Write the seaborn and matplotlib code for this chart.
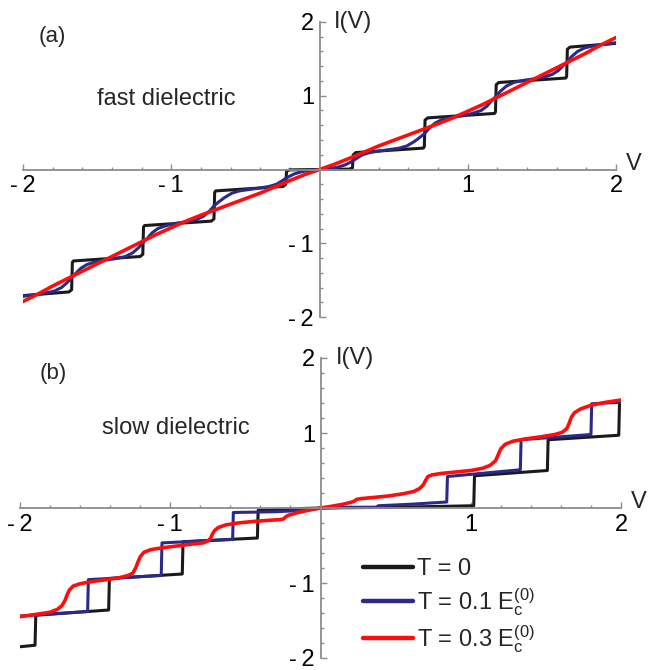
import matplotlib
matplotlib.use("Agg")
import matplotlib.pyplot as plt
from matplotlib.lines import Line2D
import seaborn as sns

# ---- panel (a): fast dielectric, I(V) ----
fast_t0_v = [-2.00, -1.69, -1.672, -1.667, -1.66, -1.21, -1.192, -1.187, -1.18, -0.73,
             -0.712, -0.707, -0.70, -0.245, -0.228, -0.222, -0.20, 0.00, 0.20, 0.222,
             0.228, 0.245, 0.70, 0.707, 0.712, 0.73, 1.18, 1.187, 1.192, 1.21,
             1.66, 1.667, 1.672, 1.69, 2.00]
fast_t0_i = [-1.71, -1.66, -1.63, -1.26, -1.24, -1.18, -1.15, -0.78, -0.76, -0.70,
             -0.67, -0.31, -0.29, -0.23, -0.20, -0.02, -0.005, 0.00, 0.005, 0.02,
             0.20, 0.23, 0.29, 0.31, 0.67, 0.70, 0.76, 0.78, 1.15, 1.18,
             1.24, 1.26, 1.63, 1.66, 1.71]

fast_t01_v = [-2.00, -1.93, -1.86, -1.79, -1.74, -1.70, -1.67, -1.64, -1.61, -1.57,
              -1.51, -1.45, -1.38, -1.31, -1.26, -1.22, -1.19, -1.16, -1.13, -1.09,
              -1.03, -0.97, -0.90, -0.83, -0.78, -0.74, -0.71, -0.68, -0.64, -0.59,
              -0.54, -0.47, -0.40, -0.34, -0.29, -0.25, -0.21, -0.17, -0.12, -0.06,
              0.00,
              0.06, 0.12, 0.17, 0.21, 0.25, 0.29, 0.34, 0.40, 0.47, 0.54,
              0.59, 0.64, 0.68, 0.71, 0.74, 0.78, 0.83, 0.90, 0.97, 1.03,
              1.09, 1.13, 1.16, 1.19, 1.22, 1.26, 1.31, 1.38, 1.45, 1.51,
              1.57, 1.61, 1.64, 1.67, 1.70, 1.74, 1.79, 1.86, 1.93, 2.00]
fast_t01_i = [-1.72, -1.70, -1.68, -1.65, -1.60, -1.53, -1.46, -1.40, -1.34, -1.29,
              -1.25, -1.23, -1.21, -1.18, -1.13, -1.06, -0.99, -0.93, -0.86, -0.80,
              -0.76, -0.73, -0.71, -0.68, -0.63, -0.56, -0.49, -0.44, -0.38, -0.32,
              -0.29, -0.27, -0.25, -0.23, -0.20, -0.15, -0.10, -0.06, -0.03, -0.01,
              0.00,
              0.01, 0.03, 0.06, 0.10, 0.15, 0.20, 0.23, 0.25, 0.27, 0.29,
              0.32, 0.38, 0.44, 0.49, 0.56, 0.63, 0.68, 0.71, 0.73, 0.76,
              0.80, 0.86, 0.93, 0.99, 1.06, 1.13, 1.18, 1.21, 1.23, 1.25,
              1.29, 1.34, 1.40, 1.46, 1.53, 1.60, 1.65, 1.68, 1.70, 1.72]

fast_t03_v = [-2.0, -1.9, -1.8, -1.7, -1.6, -1.5, -1.4, -1.3, -1.2, -1.1,
              -1.0, -0.9, -0.8, -0.7, -0.6, -0.5, -0.4, -0.3, -0.2, -0.1,
              0.0,
              0.1, 0.2, 0.3, 0.4, 0.5, 0.6, 0.7, 0.8, 0.9, 1.0,
              1.1, 1.2, 1.3, 1.4, 1.5, 1.6, 1.7, 1.8, 1.9, 2.0]
fast_t03_i = [-1.79, -1.69, -1.58, -1.48, -1.38, -1.28, -1.18, -1.08, -0.98, -0.88,
              -0.79, -0.70, -0.62, -0.545, -0.47, -0.395, -0.32, -0.235, -0.15, -0.07,
              0.0,
              0.07, 0.15, 0.235, 0.32, 0.395, 0.47, 0.545, 0.62, 0.70, 0.79,
              0.88, 0.98, 1.08, 1.18, 1.28, 1.38, 1.48, 1.58, 1.69, 1.79]

# ---- panel (b): slow dielectric ----
slow_t0_v = [-2.00, -1.90, -1.895, -1.41, -1.405, -0.92, -0.915, -0.42, -0.415, -0.20,
             0.00, 0.50, 1.02, 1.025, 1.51, 1.515, 1.985, 1.99, 2.00]
slow_t0_i = [-1.85, -1.83, -1.43, -1.36, -0.94, -0.88, -0.45, -0.40, -0.03, -0.01,
             0.00, 0.01, 0.03, 0.43, 0.50, 0.91, 0.97, 1.39, 1.40]

slow_t01_v = [-2.00, -1.55, -1.545, -1.06, -1.055, -0.585, -0.58, -0.30, -0.10, 0.00,
              0.20, 0.37, 0.385, 0.60, 0.84, 0.845, 1.33, 1.335, 1.80, 1.805, 2.00]
slow_t01_i = [-1.44, -1.38, -0.955, -0.90, -0.465, -0.42, -0.06, -0.05, -0.03, 0.00,
              0.01, 0.01, 0.03, 0.05, 0.08, 0.42, 0.51, 0.91, 0.98, 1.39, 1.41]

slow_t03_v = [-2.00, -1.90, -1.80, -1.75, -1.72, -1.70, -1.685, -1.67, -1.645, -1.60,
              -1.52, -1.42, -1.34, -1.28, -1.25, -1.23, -1.215, -1.20, -1.175, -1.13,
              -1.05, -0.95, -0.85, -0.78, -0.75, -0.73, -0.72, -0.705, -0.68, -0.63,
              -0.55, -0.45, -0.35, -0.27, -0.245, -0.23, -0.21, -0.15, -0.08, 0.00,
              0.08, 0.15, 0.20, 0.225, 0.24, 0.27, 0.35, 0.45, 0.55, 0.62,
              0.66, 0.685, 0.70, 0.715, 0.74, 0.80, 0.90, 1.00, 1.08, 1.13,
              1.165, 1.185, 1.20, 1.23, 1.28, 1.36, 1.47, 1.56, 1.61, 1.64,
              1.655, 1.67, 1.69, 1.73, 1.80, 1.90, 2.00]
slow_t03_i = [-1.45, -1.42, -1.39, -1.35, -1.30, -1.23, -1.15, -1.09, -1.04, -1.01,
              -0.98, -0.955, -0.93, -0.90, -0.87, -0.80, -0.72, -0.65, -0.59, -0.555,
              -0.53, -0.505, -0.48, -0.465, -0.44, -0.40, -0.35, -0.30, -0.26, -0.225,
              -0.20, -0.18, -0.165, -0.155, -0.145, -0.115, -0.095, -0.06, -0.03, 0.00,
              0.025, 0.05, 0.075, 0.09, 0.115, 0.125, 0.14, 0.16, 0.19, 0.22,
              0.26, 0.31, 0.37, 0.42, 0.44, 0.46, 0.48, 0.50, 0.53, 0.57,
              0.63, 0.72, 0.79, 0.85, 0.89, 0.92, 0.95, 0.98, 1.01, 1.06,
              1.13, 1.21, 1.27, 1.32, 1.37, 1.41, 1.44]

tick_labels = ["-\u20092", "-\u20091", "1", "2"]
legend_labels = ["T = 0",
                 r"T = 0.1 $\mathregular{E_c^{(0)}}$",
                 r"T = 0.3 $\mathregular{E_c^{(0)}}$"]

BLACK = "#1a1a1a"
BLUE = "#2c2a88"
RED = "#ff0d0d"
GREY = "#8c8c8c"
FS = 17

sns.set_style("white")
plt.rcParams["font.family"] = ["Liberation Sans", "DejaVu Sans"]
plt.rcParams["mathtext.fontset"] = "custom"
plt.rcParams["mathtext.rm"] = "Liberation Sans"


def style_axes(ax):
    ax.set_xlim(-2, 2)
    ax.set_ylim(-2, 2)
    for side in ["top", "right"]:
        ax.spines[side].set_visible(False)
    for side in ["left", "bottom"]:
        ax.spines[side].set_position(("data", 0))
        ax.spines[side].set_color(GREY)
        ax.spines[side].set_linewidth(1.3)
    minor = [m / 10 for m in range(-18, 19, 2) if m % 10 != 0]
    ax.set_xticks([-2, -1, 1, 2])
    ax.set_xticklabels(tick_labels)
    ax.set_yticks([-2, -1, 1, 2])
    ax.set_yticklabels(tick_labels)
    ax.set_xticks(minor, minor=True)
    ax.set_yticks(minor, minor=True)
    # seaborn's white style switches the ticks off, turn them back on
    ax.tick_params(which="both", bottom=True, left=True, direction="in",
                   color=GREY, width=1.0, labelsize=FS, labelcolor="black")
    ax.tick_params(which="major", length=4.5, pad=4)
    ax.tick_params(which="minor", length=2.5)
    ax.text(0.1, 2.0, "I(V)", ha="left", va="center", fontsize=FS)
    ax.text(2.12, 0.08, "V", ha="center", va="center", fontsize=FS)


def draw_curves(ax, curves):
    for v, i, color, lw in curves:
        sns.lineplot(x=v, y=i, ax=ax, color=color, linewidth=lw,
                     estimator=None, sort=False, legend=False)


fig = plt.figure(figsize=(6.48, 6.70), dpi=100)
ax_a = fig.add_axes([23 / 648, 1 - 317 / 670, 593 / 648, 295 / 670])
ax_b = fig.add_axes([20 / 648, 1 - 658 / 670, 601 / 648, 300 / 670])

draw_curves(ax_a, [(fast_t0_v, fast_t0_i, BLACK, 2.2),
                   (fast_t01_v, fast_t01_i, BLUE, 2.2),
                   (fast_t03_v, fast_t03_i, RED, 2.6)])
draw_curves(ax_b, [(slow_t0_v, slow_t0_i, BLACK, 2.2),
                   (slow_t01_v, slow_t01_i, BLUE, 2.2),
                   (slow_t03_v, slow_t03_i, RED, 2.6)])

for ax in (ax_a, ax_b):
    style_axes(ax)

ax_a.text(-1.80, 1.80, "(a)", ha="center", va="center", fontsize=16)
ax_a.text(-1.03, 0.95, "fast dielectric", ha="center", va="center", fontsize=FS)
ax_b.text(-1.78, 1.80, "(b)", ha="center", va="center", fontsize=16)
ax_b.text(-0.96, 1.07, "slow dielectric", ha="center", va="center", fontsize=FS)

handles = [Line2D([], [], color=c, lw=3.2, solid_capstyle="round")
           for c in (BLACK, BLUE, RED)]
ax_b.legend(handles, legend_labels, loc="upper left",
            bbox_to_anchor=(363 / 648, 1 - 558 / 670), bbox_transform=fig.transFigure,
            frameon=False, fontsize=FS, handlelength=2.1, handletextpad=0.2,
            labelspacing=0.25, borderpad=0, borderaxespad=0)

fig.savefig("out.png", dpi=100)
